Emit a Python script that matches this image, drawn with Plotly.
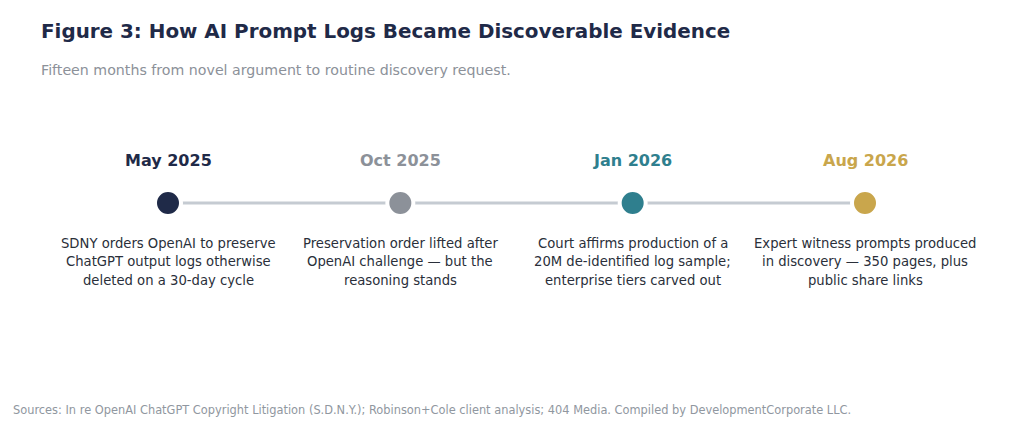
import plotly.graph_objects as go

dates = ["May 2025", "Oct 2025", "Jan 2026", "Aug 2026"]
descriptions = [
    ["SDNY orders OpenAI to preserve", "ChatGPT output logs otherwise", "deleted on a 30-day cycle"],
    ["Preservation order lifted after", "OpenAI challenge — but the", "reasoning stands"],
    ["Court affirms production of a", "20M de-identified log sample;", "enterprise tiers carved out"],
    ["Expert witness prompts produced", "in discovery — 350 pages, plus", "public share links"],
]
colors = ["#1f2a48", "#8c9199", "#2f7f8e", "#c9a64c"]
pos = [0, 1, 2, 3]

W, H = 1024, 430
OFF = 8  # page offset of the plot in the browser
ppu = (865 - 168) / 3
xmin = -(168 - OFF) / ppu
xmax = xmin + W / ppu

def py(p):
    return 1 - (p - OFF) / H

def px(p):
    return (p - OFF) / W

yline = py(203)

fig = go.Figure()
fig.add_trace(go.Scatter(x=pos, y=[yline] * 4, mode="lines",
                         line=dict(color="#c5cbd2", width=3), hoverinfo="skip"))
fig.add_trace(go.Scatter(x=pos, y=[yline] * 4, mode="markers",
                         marker=dict(size=26, color=colors, line=dict(color="white", width=4)),
                         hoverinfo="skip"))

for x, d, lines, c in zip(pos, dates, descriptions, colors):
    fig.add_annotation(x=x, y=py(160), text=f"<b>{d}</b>", showarrow=False,
                       font=dict(size=16, color=c), yanchor="middle")
    for i, line in enumerate(lines):
        fig.add_annotation(x=x, y=py(243 + 18.5 * i), text=line, showarrow=False,
                           font=dict(size=13.2, color="#2a2f3a"), yanchor="middle")

fig.add_annotation(xref="paper", x=px(39), y=py(31), text="<b>Figure 3: How AI Prompt Logs Became Discoverable Evidence</b>",
                   showarrow=False, xanchor="left", yanchor="middle", font=dict(size=19.9, color="#1f2a48"))
fig.add_annotation(xref="paper", x=px(39), y=py(70), text="Fifteen months from novel argument to routine discovery request.",
                   showarrow=False, xanchor="left", yanchor="middle", font=dict(size=14.2, color="#8c9199"))
fig.add_annotation(xref="paper", x=px(11), y=py(410),
                   text="Sources: In re OpenAI ChatGPT Copyright Litigation (S.D.N.Y.); Robinson+Cole client analysis; 404 Media. Compiled by DevelopmentCorporate LLC.",
                   showarrow=False, xanchor="left", yanchor="middle", font=dict(size=11.4, color="#9097a0"))

fig.update_layout(width=W, height=H, margin=dict(l=0, r=0, t=0, b=0),
                  plot_bgcolor="white", paper_bgcolor="white", showlegend=False,
                  font=dict(family="DejaVu Sans"),
                  xaxis=dict(range=[xmin, xmax], visible=False, fixedrange=True),
                  yaxis=dict(range=[0, 1], visible=False, fixedrange=True))
fig.write_html("out.html")
